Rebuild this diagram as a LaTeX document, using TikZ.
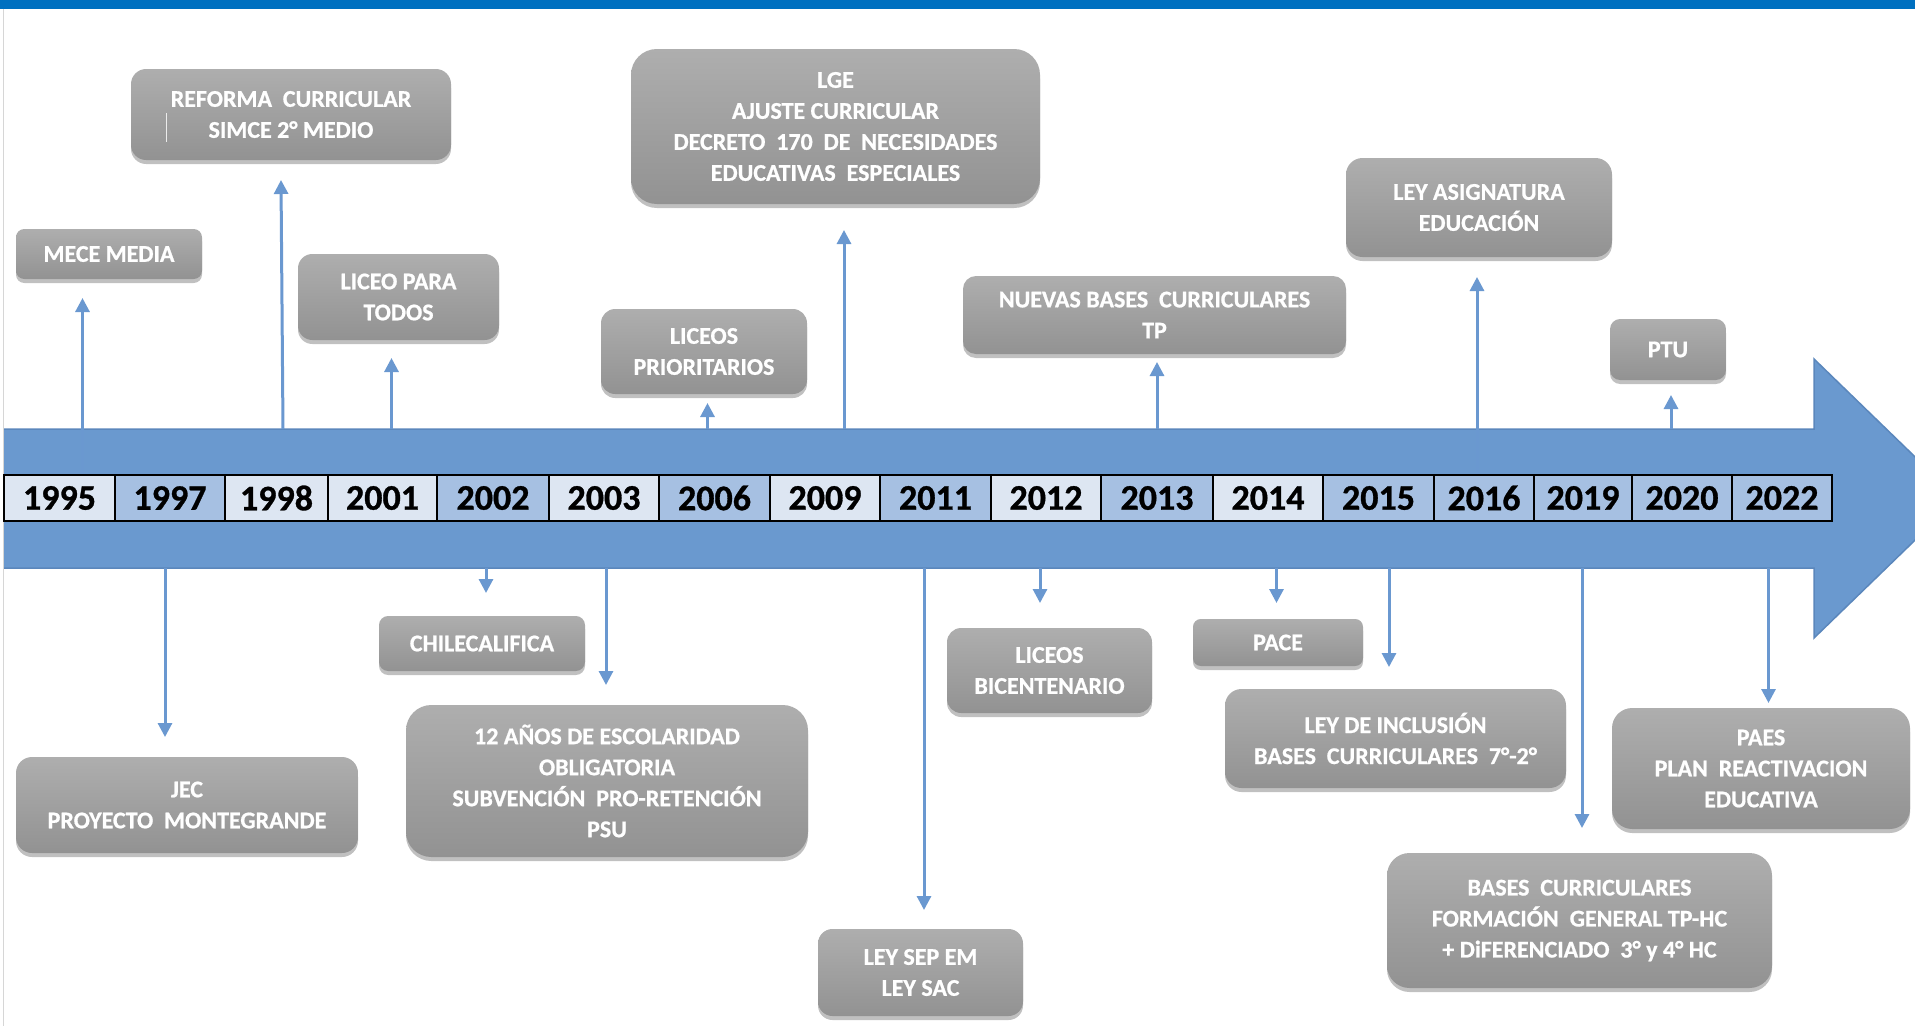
\documentclass[tikz,border=0pt]{standalone}
\usepackage{fontspec}
\setmainfont{Carlito}[BoldFeatures={FakeBold=0.8}]
\usetikzlibrary{arrows.meta,shadows}
\definecolor{topblue}{HTML}{0070C0}
\definecolor{arrowblue}{HTML}{6A99CF}
\definecolor{arrowedge}{HTML}{5B87BC}
\definecolor{connblue}{HTML}{6A98D0}
\definecolor{celllight}{HTML}{DDE6F2}
\definecolor{cellmid}{HTML}{A6C0E2}
\definecolor{boxtop}{HTML}{AEAEAE}
\definecolor{boxbot}{HTML}{929292}
\definecolor{pagegray}{HTML}{D6D6D6}
\newcommand\evbox[6]{%
  \pgfmathsetmacro\evW{#3-#2}%
  \pgfmathsetmacro\evH{#5-#4}%
  \pgfmathsetmacro\evR{0.1667*min(\evW,\evH)}%
  \pgfmathsetmacro\evX{(#2+#3)/2}%
  \pgfmathsetmacro\evY{(#4+#5)/2+1}%
  \node[evt, minimum width=\evW pt, minimum height=\evH pt, rounded corners=\evR pt] (#1) at (\evX,\evY) {#6};}
\newcommand\yearcell[4]{%
  \pgfmathsetmacro\ycW{#3-#2}%
  \pgfmathsetmacro\ycX{(#2+#3)/2}%
  \node[yc, fill=#4, minimum width=\ycW pt] (y#1) at (\ycX,498) {#1};}
\begin{document}
\begin{tikzpicture}[x=1pt,y=-1pt,
  evt/.style={top color=boxtop, bottom color=boxbot, draw=none, inner sep=0pt,
    align=center, text=white, font=\fontsize{24}{31}\selectfont\bfseries,
    drop shadow={shadow xshift=0pt, shadow yshift=-4pt, opacity=0.35, fill=black!70}},
  yc/.style={draw=black, line width=1.6pt, inner sep=0pt, minimum height=46pt,
    font=\fontsize{36}{40}\selectfont\bfseries, text=black},
  conn/.style={draw=connblue, line width=3pt, -{Triangle[length=14pt,width=14pt]}}]
\useasboundingbox (0,0) rectangle (1915,1026);
\clip (0,0) rectangle (1915,1026);
\fill[white] (0,0) rectangle (1915,1026);
% page frame
\fill[topblue] (0,0) rectangle (1915,9);
\draw[pagegray, line width=1.6pt] (3.3,9) -- (3.3,1026);
% big arrow
\fill[arrowblue] (4,429) -- (1814,429) -- (1814,359) -- (1958,498.5) -- (1814,638) -- (1814,568) -- (4,568) -- cycle;
\draw[arrowedge, line width=1.5pt, line join=miter] (4,429) -- (1814,429) -- (1814,359) -- (1958,498.5) -- (1814,638) -- (1814,568) -- (4,568);
% connectors
\foreach \nm/\xs/\ys/\xe/\ye in {1995/82.5/475/82.5/298, 1998/283/429/281/180, 2001/391.5/429/391.5/358,
   2006/707.5/429/707.5/403, 2009/844/429/844/230, 2013/1157/429/1157/362, 2016/1477/475/1477/277,
   2020/1671/429/1671/395, 1997/165/568/165/737, 2002/486/568/486/593, 2003/606/568/606/685,
   2011/924/568/924/910, 2012/1040/568/1040/603, 2014/1276.5/568/1276.5/603, 2015/1389/568/1389/667,
   2019/1582/568/1582/828, 2022/1768.5/568/1768.5/703}{
  \coordinate (s\nm) at (\xs,\ys);
  \coordinate (e\nm) at (\xe,\ye);
  \draw[conn] (s\nm) -- (e\nm);
}
% year row
\yearcell{1995}{4}{115}{celllight}
\yearcell{1997}{115}{225}{cellmid}
\yearcell{1998}{225}{328}{celllight}
\yearcell{2001}{328}{437}{celllight}
\yearcell{2002}{437}{549}{cellmid}
\yearcell{2003}{549}{659}{celllight}
\yearcell{2006}{659}{770}{cellmid}
\yearcell{2009}{770}{880}{celllight}
\yearcell{2011}{880}{991}{cellmid}
\yearcell{2012}{991}{1101}{celllight}
\yearcell{2013}{1101}{1213}{cellmid}
\yearcell{2014}{1213}{1323}{celllight}
\yearcell{2015}{1323}{1434}{cellmid}
\yearcell{2016}{1434}{1534}{cellmid}
\yearcell{2019}{1534}{1632}{cellmid}
\yearcell{2020}{1632}{1732}{cellmid}
\yearcell{2022}{1732}{1832}{cellmid}
% event boxes above
\evbox{mece}{16}{202}{228}{278}{MECE MEDIA}
\evbox{reforma}{131}{451}{68}{159}{REFORMA\ \ CURRICULAR\\SIMCE 2° MEDIO}
\evbox{liceo}{298}{499}{253}{339}{LICEO PARA\\TODOS}
\evbox{prior}{601}{807}{308}{393}{LICEOS\\PRIORITARIOS}
\evbox{lge}{631}{1040}{48}{203}{LGE\\AJUSTE CURRICULAR\\DECRETO\ \ 170\ \ DE\ \ NECESIDADES\\EDUCATIVAS\ \ ESPECIALES}
\evbox{nuevas}{963}{1346}{275}{353}{NUEVAS BASES\ \ CURRICULARES\\TP}
\evbox{leyasig}{1346}{1612}{157}{256}{LEY ASIGNATURA\\EDUCACIÓN}
\evbox{ptu}{1610}{1726}{318}{379}{PTU}
% event boxes below
\evbox{jec}{16}{358}{756}{852}{JEC\\PROYECTO\ \ MONTEGRANDE}
\evbox{chile}{379}{585}{615}{670}{CHILECALIFICA}
\evbox{doce}{406}{808}{704}{856}{12 AÑOS DE ESCOLARIDAD\\OBLIGATORIA\\SUBVENCIÓN\ \ PRO-RETENCIÓN\\PSU}
\evbox{sep}{818}{1023}{928}{1015}{LEY SEP EM\\LEY SAC}
\evbox{bicen}{947}{1152}{627}{712}{LICEOS\\BICENTENARIO}
\evbox{pace}{1193}{1363}{618}{665}{PACE}
\evbox{inclu}{1225}{1566}{688}{787}{LEY DE INCLUSIÓN\\BASES\ \ CURRICULARES\ \ 7°-2°}
\evbox{bases}{1387}{1772}{852}{987}{BASES\ \ CURRICULARES\\FORMACIÓN\ \ GENERAL TP-HC\\+ DiFERENCIADO\ \ 3° y 4° HC}
\evbox{paes}{1612}{1910}{707}{828}{PAES\\PLAN\ \ REACTIVACION\\EDUCATIVA}
% text cursor mark inside the first box
\draw[white!85!gray, line width=1pt] (166.5,113) -- (166.5,142);
\end{tikzpicture}
\end{document}
